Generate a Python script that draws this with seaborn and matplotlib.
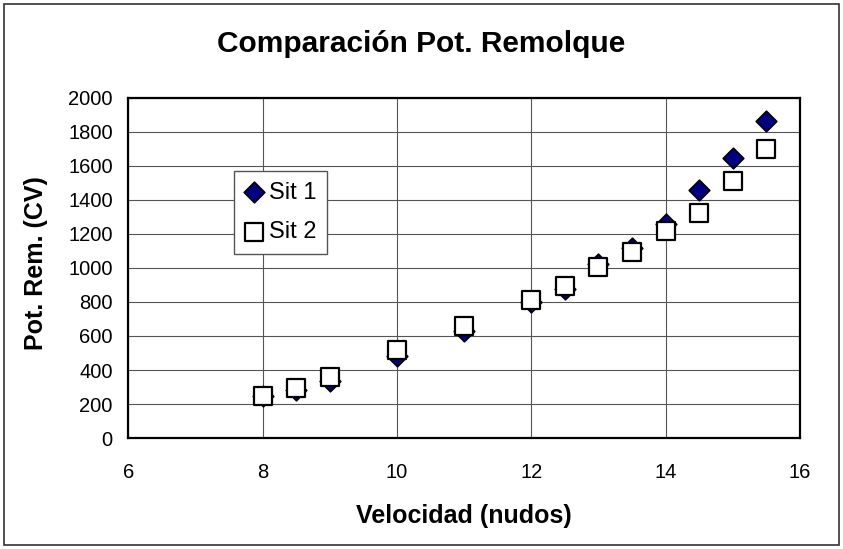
import matplotlib
matplotlib.use("Agg")
import matplotlib.pyplot as plt
from matplotlib.patches import Rectangle
import seaborn as sns
import pandas as pd

# Velocidad (nudos) and towing power (CV)
velocidad = [8, 8.5, 9, 10, 11, 12, 12.5, 13, 13.5, 14, 14.5, 15, 15.5]
sit_1 = [245, 280, 337, 480, 631, 797, 877, 1024, 1116, 1256, 1459, 1645, 1866]
sit_2 = [250, 296, 357, 519, 661, 812, 896, 1004, 1096, 1214, 1322, 1510, 1697]

x_ticks = [6, 8, 10, 12, 14, 16]
y_ticks = list(range(0, 2001, 200))

df1 = pd.DataFrame({"v": velocidad, "p": sit_1})
df2 = pd.DataFrame({"v": velocidad, "p": sit_2})

sns.set_theme(style="white")
plt.rcParams["font.family"] = ["Liberation Sans", "DejaVu Sans"]
plt.rcParams["text.color"] = "black"
plt.rcParams["axes.labelcolor"] = "black"

fig = plt.figure(figsize=(8.43, 5.49), dpi=100)
ax = fig.add_axes([0.152, 0.202, 0.797, 0.620])

sns.scatterplot(data=df1, x="v", y="p", ax=ax, marker="D", s=110,
                color="#000080", edgecolor="black", linewidth=1.2,
                label="Sit 1", zorder=3)
sns.scatterplot(data=df2, x="v", y="p", ax=ax, marker="s", s=160,
                color="white", edgecolor="black", linewidth=1.6,
                label="Sit 2", zorder=4)

ax.set_xlim(6, 16)
ax.set_ylim(0, 2000)
ax.set_xticks(x_ticks)
ax.set_yticks(y_ticks)
ax.grid(True, color="#555555", linewidth=0.8)
ax.set_axisbelow(True)
for side in ["left", "bottom", "top", "right"]:
    ax.spines[side].set_color("black")
    ax.spines[side].set_linewidth(1.6)
ax.tick_params(axis="both", direction="out", length=5, width=0.8,
               color="black", labelsize=14.5, labelcolor="black", pad=6)
ax.tick_params(axis="x", pad=13)
ax.set_xlabel("Velocidad (nudos)", fontsize=18, fontweight="bold", labelpad=16)
ax.set_ylabel("Pot. Rem. (CV)", fontsize=18, fontweight="bold")
ax.yaxis.set_label_coords(-0.12, 0.515)
fig.suptitle("Comparación Pot. Remolque", fontsize=21.5, fontweight="bold",
             y=0.946, color="black")

leg = ax.legend(loc="upper left", bbox_to_anchor=(0.158, 0.785), borderaxespad=0,
                fontsize=17, frameon=True, fancybox=False, framealpha=1,
                edgecolor="#555555", handletextpad=0.2, borderpad=0.45,
                labelspacing=0.75, handlelength=0.8)
leg.get_frame().set_linewidth(1.0)

fig.patches.append(Rectangle((0.005, 0.008), 0.99, 0.985, transform=fig.transFigure,
                             fill=False, edgecolor="#333333", linewidth=1.2))

fig.savefig("out.png", dpi=100)
